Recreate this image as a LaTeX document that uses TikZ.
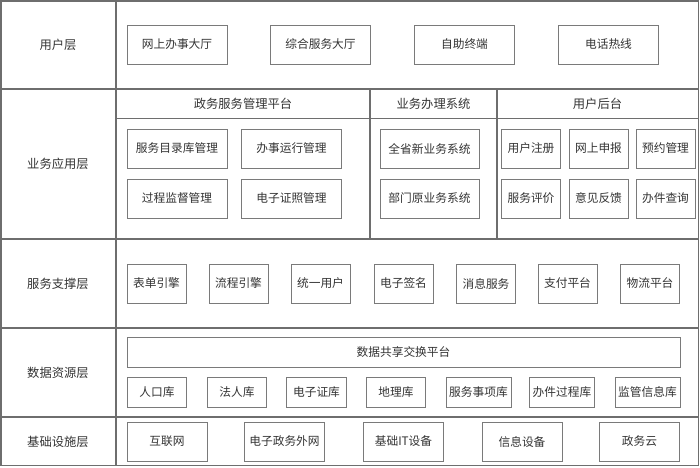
\documentclass[tikz,border=0pt]{standalone}
\usepackage{fontspec}
\setmainfont{Noto Sans CJK SC}
\usepackage{tikz}
\usetikzlibrary{positioning}

\definecolor{framegray}{HTML}{6E6E6E}
\definecolor{boxgray}{HTML}{7A7A7A}
\definecolor{txtgray}{HTML}{333333}

\begin{document}
\begin{tikzpicture}[x=0.03cm, y=-0.03cm,
  every node/.style={font=\fontsize{10}{12}\selectfont, text=txtgray},
  frame/.style={draw=framegray, line width=1.6pt},
  thin/.style={draw=framegray, line width=0.8pt},
  box/.style={draw=boxgray, line width=0.8pt, inner sep=0pt, minimum height=1.17cm},
  wide/.style={box, minimum width=3cm},
  mid/.style={box, minimum width=2.4cm},
  narrow/.style={box, minimum width=1.77cm},
  low/.style={box, minimum height=0.9cm, minimum width=1.78cm},
  lowwide/.style={low, minimum width=1.95cm},
  layer/.style={font=\fontsize{10.5}{12}\selectfont},
  head/.style={font=\fontsize{10.5}{12}\selectfont}]

\useasboundingbox (0,0) rectangle (700,467);

% Frame and layer rules
\draw[frame] (1,1) rectangle (698.5,465.5);
\draw[frame] (116,1) -- (116,465.5);
\draw[frame] (1,89) -- (698.5,89);
\draw[frame] (1,239) -- (698.5,239);
\draw[frame] (1,328) -- (698.5,328);
\draw[frame] (1,417) -- (698.5,417);
\draw[frame] (370,89) -- (370,239);
\draw[frame] (497,89) -- (497,239);
\draw[thin] (116,118) -- (698.5,118);

% Layer names
\node[layer] (lUser) at (58,44.5) {用户层};
\node[layer] (lApp) at (58,164) {业务应用层};
\node[layer] (lSvc) at (58,283.5) {服务支撑层};
\node[layer] (lData) at (58,372.5) {数据资源层};
\node[layer] (lInfra) at (58,441.5) {基础设施层};

% User layer
\node[wide] (uWeb) at (177,44.5) {网上办事大厅};
\node[wide] (uHall) at (320.5,44.5) {综合服务大厅};
\node[wide] (uSelf) at (464.5,44.5) {自助终端};
\node[wide] (uTel) at (608.5,44.5) {电话热线};

% Business application layer
\node[head] (hMgmt) at (243,103.5) {政务服务管理平台};
\node[head] (hSys) at (433.5,103.5) {业务办理系统};
\node[head] (hBack) at (597.5,103.5) {用户后台};

\node[wide] (aCat) at (177,148.5) {服务目录库管理};
\node[wide] (aRun) at (291.5,148.5) {办事运行管理};
\node[wide] (aSup) at (177,198.5) {过程监督管理};
\node[wide] (aLic) at (291.5,198.5) {电子证照管理};

\node[box, minimum width=2.97cm] (sNew) at (429.5,148.5) {全省新业务系统};
\node[box, minimum width=2.97cm] (sOld) at (429.5,198.5) {部门原业务系统};

\node[narrow] (bReg) at (531,148.5) {用户注册};
\node[narrow] (bApply) at (598.5,148.5) {网上申报};
\node[narrow] (bBook) at (665.5,148.5) {预约管理};
\node[narrow] (bRate) at (531,198.5) {服务评价};
\node[narrow] (bFeed) at (598.5,198.5) {意见反馈};
\node[narrow] (bQuery) at (665.5,198.5) {办件查询};

% Service support layer
\node[narrow] (vForm) at (156.5,283.5) {表单引擎};
\node[narrow] (vFlow) at (238.5,283.5) {流程引擎};
\node[narrow] (vUser) at (320.5,283.5) {统一用户};
\node[narrow] (vSign) at (403.5,283.5) {电子签名};
\node[narrow] (vMsg) at (486,283.5) {消息服务};
\node[narrow] (vPay) at (567.5,283.5) {支付平台};
\node[narrow] (vShip) at (650,283.5) {物流平台};

% Data resource layer
\node[box, minimum height=0.9cm, minimum width=16.59cm] (dShare) at (403.5,352) {数据共享交换平台};
\node[low] (dPeople) at (157,392) {人口库};
\node[low] (dCorp) at (237,392) {法人库};
\node[low] (dCert) at (316.5,392) {电子证库};
\node[low] (dGeo) at (396,392) {地理库};
\node[lowwide] (dItem) at (478.5,392) {服务事项库};
\node[lowwide] (dCase) at (562,392) {办件过程库};
\node[lowwide] (dReg) at (647.5,392) {监管信息库};

% Infrastructure layer
\node[mid] (iNet) at (167,441.5) {互联网};
\node[mid] (iGov) at (284.5,441.5) {电子政务外网};
\node[mid] (iIT) at (403.5,441.5) {基础IT设备};
\node[mid] (iDev) at (522,441.5) {信息设备};
\node[mid] (iCloud) at (639.5,441.5) {政务云};

\end{tikzpicture}
\end{document}
